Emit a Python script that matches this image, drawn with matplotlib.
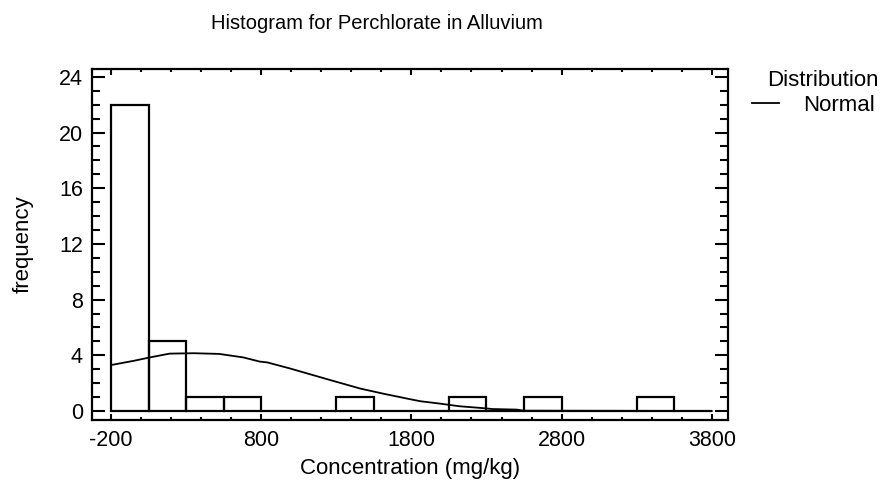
import numpy as np
import matplotlib
matplotlib.use('Agg')
import matplotlib.pyplot as plt
from matplotlib.lines import Line2D
from matplotlib.ticker import MultipleLocator

plt.rcParams['font.family'] = ['Liberation Sans', 'DejaVu Sans']
plt.rcParams['axes.unicode_minus'] = False

# Histogramm-Daten
bin_edges = [-200, 50, 300, 550, 800, 1050, 1300, 1550, 1800, 2050,
             2300, 2550, 2800, 3050, 3300, 3550, 3800]
counts = [22, 5, 1, 1, 0, 0, 1, 0, 0, 1, 0, 1, 0, 0, 1, 0]

# angepasste Normalverteilung (Punkte)
curve_x = [-200, -50, 60, 190, 350, 520, 680, 790, 840, 990, 1260, 1460,
           1610, 1790, 1860, 1990, 2120, 2260, 2340, 2500, 2550, 3800]
curve_y = [3.3, 3.6, 3.85, 4.12, 4.15, 4.1, 3.85, 3.55, 3.49, 3.06, 2.22, 1.61,
           1.25, 0.85, 0.7, 0.53, 0.34, 0.22, 0.14, 0.1, 0.02, 0.0]

x_ticks = [-200, 800, 1800, 2800, 3800]
y_ticks = [0, 4, 8, 12, 16, 20, 24]

title = 'Histogram for Perchlorate in Alluvium'
x_label = 'Concentration (mg/kg)'
y_label = 'frequency'

fs = 16

fig = plt.figure(figsize=(8.91, 4.93), dpi=100)
ax = fig.add_axes([0.1038, 0.148, 0.7138, 0.713])

widths = np.diff(bin_edges)
ax.bar(bin_edges[:-1], counts, width=widths, align='edge', fill=False,
       edgecolor='black', linewidth=1.6)
ax.plot(curve_x, curve_y, color='black', linewidth=1.3)

ax.set_xlim(-323, 3911)
ax.set_ylim(-0.65, 24.6)
ax.set_xticks(x_ticks)
ax.set_yticks(y_ticks)
ax.xaxis.set_minor_locator(MultipleLocator(200))
ax.yaxis.set_minor_locator(MultipleLocator(1))

ax.tick_params(which='both', direction='in', top=True, right=True,
               width=1.5, labelsize=15.5, colors='black')
ax.tick_params(axis='x', which='major', length=4.5, pad=7)
ax.tick_params(axis='x', which='minor', length=2.2)
ax.tick_params(axis='y', which='major', length=9.5, pad=7)
ax.tick_params(axis='y', which='minor', length=5.5)
for sp in ax.spines.values():
    sp.set_linewidth(1.6)

ax.set_xlabel(x_label, fontsize=fs, labelpad=5)
ax.set_ylabel(y_label, fontsize=fs, labelpad=18)
fig.text(0.423, 0.952, title, ha='center', va='center', fontsize=14.5)

# Legende
fig.text(0.861, 0.836, 'Distribution', ha='left', va='center', fontsize=fs)
leg = ax.legend([Line2D([0], [0], color='black', linewidth=1.3)], ['Normal'],
                loc='center left', bbox_to_anchor=(0.844, 0.786),
                bbox_transform=fig.transFigure, frameon=False, fontsize=fs,
                handlelength=1.2, handletextpad=1.1, borderpad=0, borderaxespad=0)

fig.savefig('out.png', dpi=100)
